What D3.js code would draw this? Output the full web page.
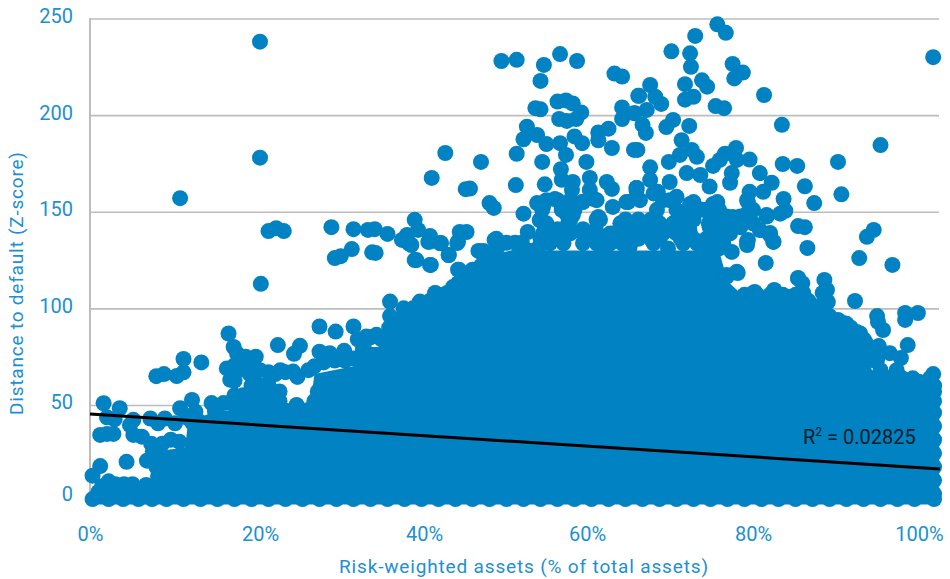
<!DOCTYPE html>
<html><head><meta charset="utf-8">
<script src="https://cdn.jsdelivr.net/npm/d3@7/dist/d3.min.js"></script>
<style>
html,body{margin:0;padding:0;background:#fff}
svg{display:block}
text{font-family:Roboto,"Noto Sans",sans-serif}
</style></head><body>
<div id="chart"></div>
<script>
const xTicks=[0,20,40,60,80,100];
const yTicks=[0,50,100,150,200,250];
const xTitle="Risk-weighted assets (% of total assets)";
const yTitle="Distance to default (Z-score)";
const trendX=[0,100];
const trendY=[45.3,16.9];
// upper edge of the region where the markers overlap into a solid mass
const massTop=[[0,2],[5,3],[7.6,5],[7.8,26],[11.2,28],[11.5,40],[16,42],[16.5,50],[18.6,50],[18.8,64],[21.8,64],[22.2,52],[24.3,50],[26,52],[26.4,66],[31,70],[31.2,80],[35,80],[35.3,92],[36.5,94],[40,102],[42.5,106],[43.2,115],[46.7,120],[47.5,128],[50.6,131],[53,130],[74,130],[75,114],[76.5,108],[84,104],[86,96],[89.5,90],[91,80],[92,68],[95,62],[99.9,62]];
const bottomRowX=[0.3,2.2,3.9,5.7,7.3,9,11,13,15,17,19,21,23,25,27,29,31,33,35,37,39,41,43,45,47,49,51,53,55,57,59,61,63,65,67,69,71,73,75,77,79,81,83,85,87,89,91,93,95,97,99.3];
const rightEdgeY=[4,11,18,25,32,39,46,52,57];
const leftBank=[[1.6,50.9],[3.5,48.3],[2,43.6],[2.9,42.6],[1.2,34.5],[2,35],[2.75,35],[1.2,18.4],[0.3,13.4],[4.3,20.6],[6.7,21.2],[6.6,8.6],[2.2,10.5],[3.5,7],[4.7,6],[1.4,7.8],[5.1,42.3],[5.1,34.5],[6.1,33.6],[7.2,30],[4.7,39.6],[7.1,43],[8.8,43],[8,40.5],[10,40.5],[10.6,48.3],[12,52.6],[12.4,46.6],[11.4,43.5],[7.8,64.9],[8.7,66],[10.2,65],[11,66.9],[11,73.8],[13.1,72],[16.3,87],[16.9,80],[17.3,76.7],[17.7,72.5],[16.1,68.9],[14.7,46.6],[14.3,51],[15.7,51],[17.6,74],[17,70.5],[16.5,63],[19.2,70],[21,67],[23,67],[22.1,81],[24,76.5],[22.3,57],[26.8,57],[22.3,52],[26.4,52],[24.4,64.5],[23.9,67.3],[22.4,68],[25.7,68],[19.5,75],[1,5],[2,5],[3,5],[4,5],[5,5],[6,5],[2,9],[3,9],[4,9],[5,9],[7.2,22],[7.4,26],[7.8,18],[8,13],[7.4,6],[8.5,30],[9.5,32],[10.5,31],[12,41],[13,41],[14,41],[15,42],[16,43],[16.5,51],[17.5,51],[18.5,52],[18.8,66],[19,60],[18.7,55],[19.8,68],[21.8,66],[18.3,75],[19,73.5],[18,68.5],[20,68],[17,62.6],[18,55],[17,55],[24.3,50]];
const leftOutliers=[[20,238],[20,178],[10.6,157],[21,140],[21.9,141.5],[22.8,140],[20.1,112.7]];
const midEdge=[[27,90.6],[28.9,88],[31,90.6],[24.7,80.6],[27,77.6],[28.2,76.8],[29.9,78],[32.5,85.4],[33.7,86.3],[32.2,81],[35.3,103.5],[36.9,100],[38.8,103.5],[40.6,107.8],[43.3,120],[45.9,129.4],[47.6,135.4],[45.9,120.8],[36.5,89.7],[36,82.8],[42.7,111],[38.2,125],[40,122.5],[42.2,127.6],[37.5,133.7],[40,134.6],[41.2,133.7],[43.3,134.6],[26.4,70],[27.5,72],[28.8,73],[30,73],[31,74],[31.5,84],[33,85],[34.3,84],[35,82],[35.3,96],[36,94],[35.2,90],[35.2,86],[37,98],[38,100],[39,102],[40,104],[41,107],[42,108],[43.3,113],[44,118],[45,120],[46,122],[46.8,122],[47.3,128],[48,132],[49,134],[50,134],[50.8,134],[51.5,130],[52.2,130]];
const upperLeft=[[48.4,228],[50.2,228.6],[53.4,226],[55.3,231.6],[57.3,228],[53,217.7],[61.7,221.5],[62.6,220],[52.4,203.6],[53,203],[55,207],[56,207.6],[56.8,206],[57.8,201.4],[55.2,198],[56.1,197],[57.2,198],[62.6,204],[62.6,198],[64,201],[64.5,210],[51.4,194],[51,187.5],[52.6,189.7],[53.7,185],[55.3,185.5],[57,189],[57.9,185.5],[56,179.4],[59.8,191],[61,193],[59.8,187],[61.4,183],[64,182],[50.2,180],[41.8,180.4],[46,175.8],[40.2,167.5],[53.2,175.8],[58.4,175.8],[55.4,172],[50.1,163.8],[53.5,164.2],[44.2,161.7],[44.7,162],[47,154.5],[47.5,152],[51,149],[52.6,154.5],[53.2,151],[54.7,156.6],[55.5,152.5],[56.8,148.3],[57.9,155],[59.3,156.6],[55.5,166.5],[56.8,165.4],[56.7,161.3],[58.8,167.5],[60.8,165.4],[61.4,161.8],[58.8,161.3],[61.5,152.5],[63.3,155],[64.3,162.3],[59.8,147.3],[28.4,142],[31,141],[32.7,140.6],[33.5,141],[35,138.5],[38.2,145.8],[38.6,140.6],[37.3,138],[36.7,135.4],[37.8,132.8],[40,137.5],[39.8,134.4],[41.3,133.8],[42.2,127.6],[38.4,125],[40.1,122.5],[28.8,126],[29.5,127],[30.8,130.7],[33.2,129],[33.6,128.7],[43.5,139.5],[44.3,139.5],[43.2,133.8],[45.7,129.7],[46.3,129.7],[47.8,136],[43.4,120],[40.6,108],[51.5,139.5],[53.7,144],[55.7,139],[59.6,139],[62.3,141],[64.1,144]];
const upperRight=[[73.8,247],[74.8,242.6],[71.2,241],[68.4,233],[70.6,232],[70.7,225],[75.6,226.5],[76.8,222],[75.8,219],[79.3,210.4],[99.2,230],[70,216],[72,218],[72.6,214.7],[71,209.5],[70,208],[73.6,204.7],[74.6,203.6],[65.9,215.6],[64.6,210],[66.5,209.5],[67.2,205.8],[65.5,202.7],[64.1,201],[65,195],[65.4,190.8],[64.4,182],[68.6,197.5],[67.8,193.8],[70.5,194.4],[69.6,187],[81.4,195],[70.8,182],[71.4,178.4],[68.1,175.8],[69.4,179.4],[65.9,173],[73.3,173.7],[74.7,180],[76,183],[74.1,176.8],[76.1,176.8],[77.6,177],[75.5,170],[78.8,170],[80.2,165],[81.5,174.7],[83.2,173.7],[88,175.8],[93,184.5],[88.4,159],[84.1,163.2],[85.2,154.5],[81.6,156.6],[81.8,150.5],[79.2,160.3],[77.6,160.3],[77.4,155],[73.8,155],[71,155],[69,157.7],[70.2,170],[71.8,169],[72.9,163],[75.3,165],[68.2,165.4],[65.9,166.5],[64.3,162.3],[66.8,160.3],[67.4,156],[64.7,156],[72.9,142],[74.5,138],[75.6,147.3],[77.6,147.3],[79.6,148.3],[77.4,135.4],[77.3,132.8],[80,139],[80.4,134.4],[75.5,129.2],[83.3,142.6],[84.1,142],[84.4,131.3],[79.5,123.5],[83.3,115.7],[83.8,113],[86.4,114.7],[86.7,109.5],[80.5,109.5],[78.2,108.5],[76.2,118.3],[74.9,117.3],[92.2,140.6],[91.4,137],[90.5,126],[94.4,122.5]];
const lowerRight=[[90,103.8],[92.6,96],[92.7,93],[93.3,88.8],[95.9,97.6],[95.9,94],[97.4,97.6],[96.2,81],[92.8,80.5],[86.8,103.3],[86.2,108],[83.9,108],[94.1,76.8],[95.4,74.3],[92.6,73.3],[94.9,68],[99.2,66],[88.6,92.4],[90.2,87.8],[91.2,82.6],[87.4,94],[89,92],[90.6,87],[91.7,80],[92.3,73],[96.8,63.8],[98.8,63.8],[99.3,60],[83.9,102.6],[85.1,101],[86.2,97.4],[77,107],[78.5,107],[80,107],[81.5,107],[83,107],[76.1,119],[74.9,116.4],[78,107.8],[80.4,108.6],[82,106],[83.3,115.5],[83.9,107.8],[85.5,101],[84.5,104],[85.5,98],[87,96],[88,94],[89.5,90],[91,84],[92,76],[93,68],[94,64],[95.5,64],[97.5,62]];
const denseBand=[[54.1,133.7],[55.7,133.7],[58,133.7],[59.6,133.7],[61.2,133.7],[62.6,133.7],[66.3,133.7],[69.8,133.7],[71.4,133.7],[73,133.7],[74.5,133.7],[53.3,138.8],[54.9,138.8],[56.5,138.8],[58,138.8],[59.6,138.8],[61.2,138.8],[62.7,138.8],[64.3,138.8],[65.9,138.8],[67.4,138.8],[69,138.8],[70.6,138.8],[74.1,138.8],[75.3,138.8],[56.3,145],[59.6,146],[62.4,144],[64,144],[65.5,144],[67,144],[68.6,144],[70.2,144],[72.8,144],[74.5,138],[77.3,134.5],[80,138],[80.4,134.5],[78,144],[76.5,142],[78.8,140.5],[52.9,145.7],[53.7,140.6],[56,149.2],[53.3,152.6],[53.7,156],[55.7,154],[58,155],[59.6,156],[63.1,155],[64.3,161],[66.3,159.5],[68.2,156],[70.6,154],[73.3,154],[77.3,156],[77.3,149],[78,151],[79.6,147.5],[81.2,149],[76.5,147.5],[74.9,147.5],[70.6,149],[72.5,151],[66.7,151]];
const denseFill=[[53,133],[60.5,132],[63.5,132],[68,131],[72.5,131],[74,131],[53,136],[54.5,136],[58.7,136],[60,136],[61.5,136],[63,136],[64.5,136],[66,136],[67,136],[69.5,136],[71,136],[72.5,136],[74,136],[53.5,141],[55,141],[56.5,141],[58,141],[59.5,141],[63,141],[64.5,141],[66,141],[67.5,141],[69,141],[70.5,141],[74,141],[75.5,141],[53,146],[56.5,146],[60,146],[63,146],[64.5,146],[66,146],[69.5,146],[71,146],[73,146],[74.5,146],[76,146],[55.5,151],[57,151],[69,151],[70.5,151],[72,151],[74,151],[55,156],[56.5,156]];

const W=950,H=579;
const x=d3.scaleLinear().domain([0,100]).range([90,940]);
const y=d3.scaleLinear().domain([0,250]).range([501.6,18.5]);
const svg=d3.select("#chart").append("svg").attr("width",W).attr("height",H);
const gridColor="#bdbdbd",textColor="#2090d0",dotColor="#0082c3";

// horizontal gridlines and left axis line
const yAxis=d3.axisLeft(y).tickValues(yTicks).tickSize(-849).tickPadding(17);
const gy=svg.append("g").attr("transform","translate(90,0)").call(yAxis);
gy.select(".domain").attr("stroke",gridColor).attr("stroke-width",2).attr("d","M0,18V500");
gy.selectAll("line").attr("stroke",gridColor).attr("stroke-width",1.6);
gy.selectAll("text").attr("fill",textColor).attr("font-size",20)
  .attr("font-family","Roboto").attr("dy",d=>d===0?"-0.05em":"0.2em");

// x axis: tick labels only, each nudged as in the reference
const labelShift={0:0,20:0,40:-6,60:-13,80:-17,100:-21};
const xAxis=d3.axisBottom(x).tickValues(xTicks).tickSize(0).tickFormat(d=>d+"%");
const gx=svg.append("g").attr("transform","translate(0,525)").call(xAxis);
gx.select(".domain").remove();
gx.selectAll("text").attr("fill",textColor).attr("font-size",20).attr("font-family","Roboto")
  .attr("dx",d=>labelShift[d]).attr("y",0).attr("dy","0.78em");

// solid overlapped mass
const mass=d3.area().x(d=>x(d[0])).y0(y(-1.5)).y1(d=>y(d[1]));
svg.append("path").datum(massTop).attr("d",mass).attr("fill",dotColor);

// individual markers
const points=[].concat(leftBank,leftOutliers,midEdge,upperLeft,upperRight,lowerRight,denseBand,denseFill,
  bottomRowX.map(v=>[v,1.3]),rightEdgeY.map(v=>[99.3,v]));
svg.append("g").selectAll("circle").data(points).join("circle")
  .attr("cx",d=>x(d[0])).attr("cy",d=>y(d[1])).attr("r",8).attr("fill",dotColor);

// trend line
svg.append("path").datum(d3.zip(trendX,trendY))
  .attr("d",d3.line().x(d=>x(d[0])).y(d=>y(d[1])))
  .attr("stroke","#000").attr("stroke-width",3).attr("fill","none");

// R squared label
const r2=svg.append("text").attr("x",803).attr("y",444).attr("font-size",20).attr("fill","#0b1a26");
r2.append("tspan").text("R");
r2.append("tspan").text("2").attr("font-size",12).attr("dy",-8);
r2.append("tspan").text(" = 0.02825").attr("dy",8);

// axis titles
svg.append("text").attr("x",339).attr("y",573).attr("font-size",19).attr("fill",textColor)
  .attr("textLength",369).attr("lengthAdjust","spacing").text(xTitle);
svg.append("text").attr("transform","translate(23,415) rotate(-90)").attr("font-size",19).attr("fill",textColor)
  .attr("textLength",263).attr("lengthAdjust","spacing").text(yTitle);
</script>
</body></html>
